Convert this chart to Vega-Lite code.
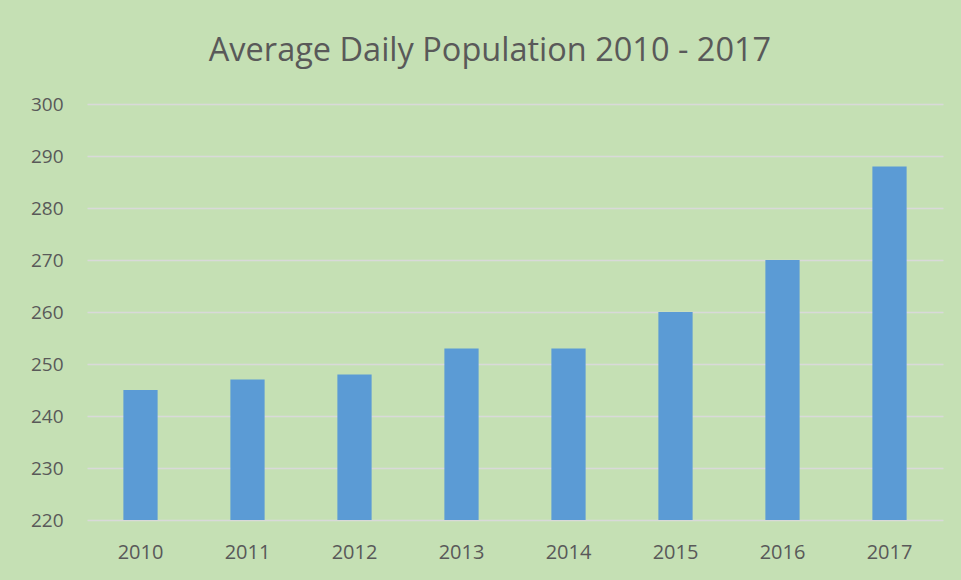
{
  "$schema": "https://vega.github.io/schema/vega-lite/v6.json",
  "autosize": "none",
  "width": 856,
  "height": 416,
  "padding": {"left": 87, "top": 104, "right": 18, "bottom": 60},
  "background": "#C5E0B4",
  "title": {
    "text": "Average Daily Population 2010 - 2017",
    "font": "Open Sans",
    "fontSize": 32.5,
    "fontWeight": "normal",
    "color": "#595959",
    "anchor": "middle",
    "frame": "group",
    "dx": -25,
    "offset": 28
  },
  "config": {
    "view": {"stroke": null},
    "axis": {"labelFont": "Open Sans", "labelColor": "#595959", "labelFontSize": 19, "titleFont": "Open Sans"}
  },
  "data": {
    "values": [
      {"year": "2010", "value": 245},
      {"year": "2011", "value": 247},
      {"year": "2012", "value": 248},
      {"year": "2013", "value": 253},
      {"year": "2014", "value": 253},
      {"year": "2015", "value": 260},
      {"year": "2016", "value": 270},
      {"year": "2017", "value": 288}
    ]
  },
  "mark": {"type": "bar", "color": "#5B9BD5", "clip": true},
  "encoding": {
    "x": {
      "field": "year",
      "type": "nominal",
      "sort": null,
      "title": null,
      "scale": {"paddingInner": 0.68, "paddingOuter": 0.34},
      "axis": {"labelAngle": 0, "domain": false, "ticks": false, "labelPadding": 22, "labelFontSize": 20}
    },
    "y": {
      "field": "value",
      "type": "quantitative",
      "title": null,
      "scale": {"domain": [220, 300], "zero": false, "nice": false},
      "axis": {
        "values": [220, 230, 240, 250, 260, 270, 280, 290, 300],
        "domain": false,
        "ticks": false,
        "grid": true,
        "gridColor": "#D9D9D9",
        "gridWidth": 1.5,
        "labelPadding": 24
      }
    }
  }
}
